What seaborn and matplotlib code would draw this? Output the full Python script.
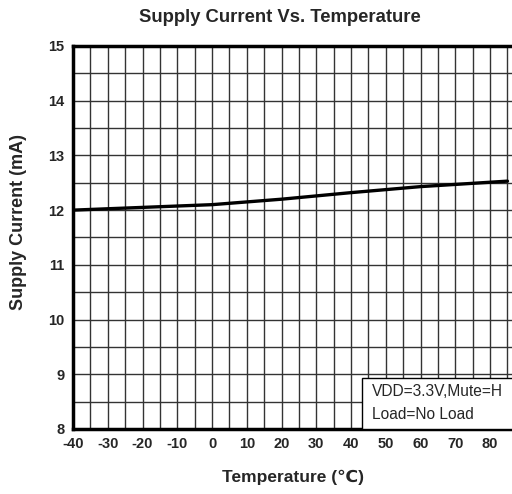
import matplotlib
matplotlib.use("Agg")
import matplotlib.pyplot as plt
from matplotlib.patches import Rectangle
import seaborn as sns
import pandas as pd
import numpy as np

# values
temperature = [-40, -20, 0, 20, 40, 60, 85]
supply_current = [12.0, 12.05, 12.1, 12.2, 12.32, 12.43, 12.53]
x_ticks = [-40, -30, -20, -10, 0, 10, 20, 30, 40, 50, 60, 70, 80]
y_ticks = [8, 9, 10, 11, 12, 13, 14, 15]

data = pd.DataFrame({"Temperature": temperature, "Current": supply_current})

sns.set_style("white")
plt.rcParams["font.family"] = ["Liberation Sans", "DejaVu Sans"]

fig = plt.figure(figsize=(5.12, 4.94), dpi=100)
ax = fig.add_axes([0.1426, 0.1316, 0.8574, 0.7753])

sns.lineplot(data=data, x="Temperature", y="Current", color="black", lw=2.4, ax=ax)

ax.set_xlim(-40, 86.3)
ax.set_ylim(8, 15)
ax.set_xticks(np.arange(-40, 90, 5), minor=True)
ax.set_yticks(np.arange(8, 15.5, 0.5), minor=True)
ax.set_xticks(x_ticks)
ax.set_yticks(y_ticks)
ax.set_xticklabels([str(t) for t in x_ticks], fontsize=10.5, fontweight="bold")
ax.set_yticklabels([str(t) for t in y_ticks], fontsize=10.5, fontweight="bold")
ax.tick_params(which="both", length=0, pad=6)
ax.grid(which="both", color="#333333", lw=1)
ax.set_axisbelow(True)

for side in ["left", "bottom", "top"]:
    ax.spines[side].set_visible(True)
    ax.spines[side].set_linewidth(2.5)
    ax.spines[side].set_color("black")
ax.spines["right"].set_visible(False)

ax.set_xlabel("")
ax.set_ylabel("")
fig.text(0.572, 0.034, "Temperature (\u2103)", ha="center", va="center",
         fontsize=12.5, fontweight="bold")
fig.text(0.037, 0.55, "Supply Current (mA)", ha="center", va="center",
         rotation=90, fontsize=13, fontweight="bold")
fig.text(0.547, 0.965, "Supply Current Vs. Temperature", ha="center", va="center",
         fontsize=13.3, fontweight="bold")

# condition box in the lower right corner
ax.add_patch(Rectangle((0.658, 0.0), 0.36, 0.133, transform=ax.transAxes,
                       fc="white", ec="black", lw=1, zorder=5, clip_on=False))
ax.text(0.681, 0.097, "VDD=3.3V,Mute=H", transform=ax.transAxes,
        fontsize=11.2, va="center", ha="left", zorder=6)
ax.text(0.681, 0.039, "Load=No Load", transform=ax.transAxes,
        fontsize=11.2, va="center", ha="left", zorder=6)

fig.savefig("out.png", dpi=100)
